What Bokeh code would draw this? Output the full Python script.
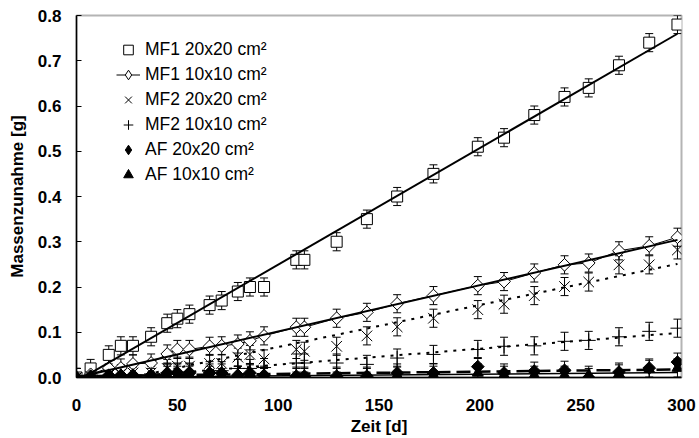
import numpy as np
from bokeh.plotting import figure
from bokeh.models import (ColumnDataSource, Whisker, TeeHead, Legend, LegendItem,
                          FixedTicker, Range1d, NumeralTickFormatter)
from bokeh.embed import file_html
from bokeh.resources import INLINE

# ---------------- data ----------------
days = [0, 7, 16, 22, 28, 37, 45, 50, 56, 66, 72, 80, 86, 93, 109, 113,
        129, 144, 159, 177, 199, 212, 227, 242, 254, 269, 284, 298]

mf1_20 = [0.00, 0.02, 0.05, 0.07, 0.07, 0.09, 0.12, 0.13, 0.14, 0.16, 0.17, 0.19, 0.20, 0.20,
          0.26, 0.26, 0.30, 0.35, 0.40, 0.45, 0.51, 0.53, 0.58, 0.62, 0.64, 0.69, 0.74, 0.78]
mf1_10 = [0.000, 0.007, 0.021, 0.021, 0.030, 0.032, 0.052, 0.062, 0.062, 0.069, 0.070, 0.074,
          0.081, 0.092, 0.111, 0.111, 0.131, 0.144, 0.163, 0.181, 0.203, 0.212, 0.231, 0.249,
          0.253, 0.280, 0.291, 0.310]
mf2_20 = [0.000, 0.003, 0.005, 0.008, 0.010, 0.010, 0.020, 0.025, 0.025, 0.031, 0.031, 0.045,
          0.051, 0.041, 0.062, 0.058, 0.069, 0.092, 0.112, 0.131, 0.150, 0.162, 0.181, 0.201,
          0.211, 0.249, 0.249, 0.282]
mf2_10 = [0.000, 0.000, 0.003, 0.005, 0.005, 0.008, 0.010, 0.012, 0.012, 0.015, 0.015, 0.020,
          0.020, 0.022, 0.032, 0.032, 0.032, 0.029, 0.043, 0.051, 0.062, 0.069, 0.070, 0.080,
          0.082, 0.090, 0.102, 0.109]
af_20 = [0.000, 0.003, 0.005, 0.005, 0.005, 0.005, 0.010, 0.010, 0.010, 0.010, 0.010, 0.005,
         0.010, 0.005, 0.003, 0.003, 0.003, 0.003, 0.010, 0.010, 0.024, 0.010, 0.014, 0.016,
         0.000, 0.012, 0.021, 0.034]
af_10 = [0.000, 0.000, 0.003, 0.003, 0.003, 0.000, 0.005, 0.005, 0.005, 0.005, 0.000, 0.005,
         0.008, 0.000, 0.000, 0.000, 0.000, 0.000, 0.005, 0.005, 0.010, 0.005, 0.005, 0.005,
         0.005, 0.008, 0.018, 0.021]

error = 0.02
labels = ["MF1 20x20 cm²", "MF1 10x10 cm²", "MF2 20x20 cm²", "MF2 10x10 cm²",
          "AF 20x20 cm²", "AF 10x10 cm²"]
y_ticks = [0.0, 0.1, 0.2, 0.3, 0.4, 0.5, 0.6, 0.7, 0.8]
x_ticks = [0, 50, 100, 150, 200, 250, 300]

FONT = "Liberation Sans"

p = figure(width=699, height=438, output_backend="svg", toolbar_location=None,
           x_range=Range1d(0, 300), y_range=Range1d(0, 0.8),
           min_border_left=76, min_border_top=15, min_border_right=18, min_border_bottom=60)
p.background_fill_color = "white"
p.border_fill_color = "white"
p.outline_line_color = "#b4b4b4"
p.outline_line_width = 2
p.grid.visible = False

# axes
p.xaxis.ticker = FixedTicker(ticks=x_ticks)
p.yaxis.ticker = FixedTicker(ticks=y_ticks)
p.yaxis.formatter = NumeralTickFormatter(format="0.0")
for ax in (p.xaxis, p.yaxis):
    ax.axis_line_color = "black"
    ax.axis_line_width = 1.5
    ax.minor_tick_line_color = None
    ax.major_label_text_font = FONT
    ax.major_label_text_font_style = "bold"
    ax.major_label_text_font_size = "17px"
    ax.major_label_text_color = "black"
    ax.axis_label_text_font = FONT
    ax.axis_label_text_font_style = "bold"
    ax.axis_label_text_font_size = "17px"
    ax.axis_label_text_color = "black"
p.xaxis.major_tick_in = 0
p.xaxis.major_tick_out = 0
p.xaxis.major_label_standoff = 21
p.xaxis.axis_label = "Zeit [d]"
p.xaxis.axis_label_standoff = 3
p.yaxis.major_tick_in = 5
p.yaxis.major_tick_out = 0
p.yaxis.major_tick_line_color = "black"
p.yaxis.major_label_standoff = 15
p.yaxis.axis_label = "Massenzunahme [g]"
p.yaxis.axis_label_standoff = 8

series = [mf1_20, mf1_10, mf2_20, mf2_10, af_20, af_10]
markers = ["square", "square", "x", "cross", "square", "triangle"]
angles = [0, np.pi / 4, 0, 0, np.pi / 4, 0]
sizes = [11, 9, 15, 14, 9, 11]
fills = ["white", "white", None, None, "black", "black"]
trend_dash = ["solid", "solid", "3 6", "3 6", "14 6", "solid"]
trend_width = [2, 2, 2, 2, 2.5, 1.5]

legend_items = []
for i, vals in enumerate(series):
    src = ColumnDataSource(dict(x=days, y=vals,
                                upper=[v + error for v in vals],
                                lower=[v - error for v in vals]))
    rends = []
    if i == 1:
        conn = p.line("x", "y", source=src, line_color="black", line_width=1)
        rends.append(conn)
    style = dict(line_color="black", line_width=1,
                 fill_color=fills[i] if fills[i] else "white",
                 fill_alpha=1 if fills[i] else 0)
    if angles[i]:
        # legend ignores marker angle: a small diamond swatch hidden under the rotated squares
        lg = p.scatter("x", "y", source=src, marker="diamond", size=6, **style)
        rends.append(lg)
    sc = p.scatter("x", "y", source=src, marker=markers[i], size=sizes[i], angle=angles[i],
                   **style)
    if not angles[i]:
        rends.append(sc)
    legend_items.append(LegendItem(label=labels[i], renderers=rends))
    wh = Whisker(source=src, base="x", upper="upper", lower="lower", dimension="height",
                 line_color="black", line_width=1,
                 upper_head=TeeHead(size=8, line_color="black", line_width=1),
                 lower_head=TeeHead(size=8, line_color="black", line_width=1))
    p.add_layout(wh)

# linear trendlines (least-squares fit of each series, like the spreadsheet)
for i, vals in enumerate(series):
    k, d = np.polyfit(days, vals, 1)
    xs = [days[0], days[-1]]
    ys = [k * xs[0] + d, k * xs[1] + d]
    p.line(xs, ys, line_color="black", line_width=trend_width[i], line_dash=trend_dash[i])

legend = Legend(items=legend_items, location=(40, 190), orientation="vertical")
legend.label_text_font = FONT
legend.label_text_font_size = "17.5px"
legend.label_text_color = "black"
legend.glyph_width = 24
legend.glyph_height = 25
legend.label_height = 25
legend.spacing = 0
legend.padding = 0
legend.margin = 0
legend.label_standoff = 5
legend.border_line_color = None
legend.background_fill_alpha = 0
p.add_layout(legend)

open("out.html", "w").write(file_html(p, INLINE))
